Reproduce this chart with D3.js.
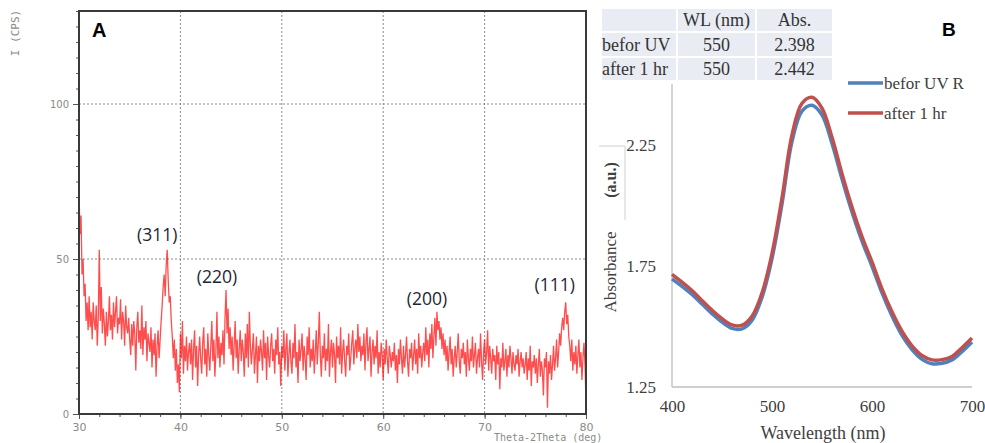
<!DOCTYPE html>
<html>
<head>
<meta charset="utf-8">
<script src="https://cdn.jsdelivr.net/npm/d3@7"></script>
<style>
  html, body { margin: 0; padding: 0; background: #fff; }
  svg { display: block; }
</style>
</head>
<body>
<svg id="chart" width="985" height="443"></svg>
<script>
// ---------- Panel A: XRD pattern (2θ from 30° to 80°, step 0.1°) ----------
const xrdStart = 30;
const xrdStep = 0.1;
const xrdCounts = [
  72, 58, 64, 45, 50, 38, 42, 30, 36, 27,
  38, 28, 33, 24, 36, 30, 27, 35, 22, 31,
  53, 30, 41, 26, 34, 29, 22, 33, 25, 30,
  38, 27, 32, 24, 36, 28, 33, 38, 26, 31,
  29, 37, 24, 33, 30, 22, 35, 28, 26, 31,
  24, 19, 29, 22, 30, 26, 14, 28, 33, 23,
  27, 21, 35, 19, 28, 24, 30, 17, 26, 23,
  20, 28, 15, 24, 19, 26, 12, 22, 27, 18,
  24, 30, 35, 41, 45, 38, 48, 53, 43, 36,
  38, 30, 25, 18, 24, 14, 21, 10, 16, 7,
  26, 18, 30, 13, 22, 17, 25, 14, 20, 23,
  16, 24, 11, 21, 27, 15, 22, 9, 19, 25,
  18, 13, 23, 28, 16, 21, 12, 26, 19, 14,
  22, 30, 17, 24, 12, 20, 33, 18, 25, 15,
  23, 19, 27, 16, 31, 40, 26, 34, 21, 28,
  19, 25, 14, 22, 30, 18, 24, 13, 21, 27,
  17, 24, 20, 12, 26, 18, 29, 15, 33, 22,
  16, 21, 26, 13, 19, 25, 10, 22, 17, 24,
  20, 14, 27, 18, 23, 11, 25, 19, 15, 22,
  26, 17, 21, 13, 24, 19, 28, 16, 20, 9,
  22, 18, 27, 14, 21, 26, 12, 19, 24, 17,
  13, 23, 18, 29, 15, 20, 10, 24, 17, 21,
  26, 14, 22, 18, 11, 25, 19, 28, 15, 21,
  17, 24, 13, 20, 27, 16, 23, 33, 19, 12,
  22, 18, 26, 14, 21, 17, 29, 12, 20, 24,
  15, 23, 19, 10, 25, 18, 22, 16, 28, 13,
  20, 24, 17, 12, 22, 19, 26, 14, 18, 23,
  27, 16, 21, 24, 18, 29, 20, 25, 17, 22,
  19, 26, 14, 23, 28, 17, 21, 25, 12, 20,
  24, 16, 22, 18, 27, 13, 20, 15, 23, 19,
  11, 21, 16, 24, 18, 13, 22, 19, 15, 20,
  17, 23, 14, 19, 10, 21, 16, 24, 18, 13,
  22, 15, 19, 25, 17, 12, 21, 18, 23, 14,
  19, 24, 16, 21, 13, 26, 18, 22, 15, 20,
  23, 17, 28, 19, 24, 15, 26, 21, 29, 18,
  25, 31, 22, 33, 27, 30, 24, 28, 21, 26,
  19, 24, 17, 22, 14, 20, 25, 16, 21, 12,
  18, 22, 15, 20, 26, 17, 13, 21, 18, 23,
  16, 20, 12, 24, 18, 14, 21, 17, 25, 15,
  19, 23, 13, 18, 21, 15, 26, 17, 11, 20,
  24, 16, 20, 27, 14, 22, 18, 13, 21, 17,
  19, 11, 22, 16, 20, 8, 18, 15, 23, 14,
  17, 21, 12, 19, 15, 22, 18, 13, 20, 16,
  14, 19, 16, 21, 12, 17, 20, 15, 18, 13,
  16, 20, 11, 18, 14, 22, 9, 17, 15, 19,
  13, 18, 10, 16, 21, 12, 17, 14, 6, 18,
  15, 20, 2, 17, 13, 19, 11, 16, 22, 14,
  18, 24, 15, 20, 26, 22, 28, 31, 27, 33,
  36, 29, 32, 25, 22, 17, 24, 14, 20, 16,
  22, 13, 19, 24, 15, 20, 11, 18, 23, 16,
  4
];
const xrdXTicks = [30, 40, 50, 60, 70, 80];
const xrdYTicks = [0, 50, 100];
const peakLabels = ["(311)", "(220)", "(200)", "(111)"];
const peakAngles = [38.7, 44.6, 65.3, 77.9];
const peakLabelCounts = [58, 44.5, 37.5, 42];

// ---------- Panel B: UV-Vis absorbance ----------
const wavelengths = [400, 410, 420, 430, 440, 450, 460, 470, 480, 490,
                     500, 510, 520, 530, 540, 550, 560, 570, 580, 590,
                     600, 610, 620, 630, 640, 650, 660, 670, 680, 690, 700];
const absBefore = [1.696, 1.665, 1.632, 1.592, 1.552, 1.518, 1.492, 1.490, 1.525, 1.620,
                   1.780, 2.005, 2.262, 2.388, 2.412, 2.372, 2.255, 2.108, 1.972, 1.852,
                   1.748, 1.638, 1.543, 1.463, 1.404, 1.364, 1.346, 1.348, 1.362, 1.396, 1.436];
const absAfter  = [1.715, 1.683, 1.648, 1.607, 1.567, 1.532, 1.506, 1.505, 1.542, 1.638,
                   1.800, 2.030, 2.290, 2.420, 2.445, 2.400, 2.280, 2.130, 1.992, 1.870,
                   1.766, 1.655, 1.560, 1.480, 1.420, 1.380, 1.362, 1.363, 1.376, 1.412, 1.452];
const seriesNames = ["befor UV R", "after 1 hr"];
const seriesColors = ["#4f81bd", "#c0504d"];
const uvXTicks = [400, 500, 600, 700];
const uvYTicks = [1.25, 1.75, 2.25];

// Summary table
const tableHeader = ["", "WL (nm)", "Abs."];
const tableRowNames = ["befor UV", "after 1 hr"];
const tableWL = ["550", "550"];
const tableAbs = ["2.398", "2.442"];

const svg = d3.select("#chart");

// ===================== Panel A =====================
const ax = d3.scaleLinear().domain([30, 80]).range([79, 586]);
const ay = d3.scaleLinear().domain([0, 130]).range([414, 11]);
const gA = svg.append("g");

// dotted grid
gA.selectAll("line.vgrid").data([40, 50, 60, 70]).join("line")
  .attr("x1", d => ax(d)).attr("x2", d => ax(d))
  .attr("y1", ay(130)).attr("y2", ay(0))
  .attr("stroke", "#8a8a8a").attr("stroke-width", 1).attr("stroke-dasharray", "2,2");
gA.selectAll("line.hgrid").data([50, 100]).join("line")
  .attr("x1", ax(30)).attr("x2", ax(80))
  .attr("y1", d => ay(d)).attr("y2", d => ay(d))
  .attr("stroke", "#8a8a8a").attr("stroke-width", 1).attr("stroke-dasharray", "2,2");

// diffraction trace
const xrdPoints = xrdCounts.map((c, i) => [xrdStart + i * xrdStep, c]);
gA.append("path")
  .datum(xrdPoints)
  .attr("fill", "none")
  .attr("stroke", "#ff0000")
  .attr("stroke-opacity", 0.7)
  .attr("stroke-width", 1.3)
  .attr("d", d3.line().x(d => ax(d[0])).y(d => ay(d[1])));

// axes with minor ticks
const xMinor = d3.range(30, 80.01, 2);
gA.append("g").attr("transform", `translate(0,${ay(0)})`)
  .call(d3.axisBottom(ax).tickValues(xMinor).tickSize(3).tickFormat(""))
  .call(g => g.select(".domain").remove())
  .call(g => g.selectAll("line").attr("stroke", "#555"));
gA.append("g").attr("transform", `translate(0,${ay(0)})`)
  .call(d3.axisBottom(ax).tickValues(xrdXTicks).tickSize(5).tickPadding(4).tickFormat(d3.format("d")))
  .call(g => g.select(".domain").remove())
  .call(g => g.selectAll("line").attr("stroke", "#555"))
  .call(g => g.selectAll("text").attr("fill", "#8a8a8a").attr("font-size", 11)
    .attr("font-family", "DejaVu Sans, sans-serif"));

const yMinor = d3.range(0, 130.01, 5);
gA.append("g").attr("transform", `translate(${ax(30)},0)`)
  .call(d3.axisLeft(ay).tickValues(yMinor).tickSize(3).tickFormat(""))
  .call(g => g.select(".domain").remove())
  .call(g => g.selectAll("line").attr("stroke", "#555"));
gA.append("g").attr("transform", `translate(${ax(30)},0)`)
  .call(d3.axisLeft(ay).tickValues(xrdYTicks).tickSize(6).tickPadding(4).tickFormat(d3.format("d")))
  .call(g => g.select(".domain").remove())
  .call(g => g.selectAll("line").attr("stroke", "#555"))
  .call(g => g.selectAll("text").attr("fill", "#8a8a8a").attr("font-size", 10)
    .attr("font-family", "DejaVu Sans, sans-serif"));

// frame
gA.append("rect")
  .attr("x", ax(30)).attr("y", ay(130))
  .attr("width", ax(80) - ax(30)).attr("height", ay(0) - ay(130))
  .attr("fill", "none").attr("stroke", "#3a3a3a").attr("stroke-width", 2);

// axis titles
gA.append("text")
  .attr("transform", "translate(19,33) rotate(-90)")
  .attr("text-anchor", "middle")
  .attr("font-family", "DejaVu Sans Mono, monospace")
  .attr("font-size", 11).attr("fill", "#8a8a8a")
  .text("I (CPS)");
gA.append("text")
  .attr("x", 494).attr("y", 441)
  .attr("font-family", "DejaVu Sans Mono, monospace")
  .attr("font-size", 10).attr("fill", "#8a8a8a")
  .text("Theta-2Theta (deg)");

// panel letter
gA.append("text")
  .attr("x", 92).attr("y", 37)
  .attr("font-family", "Liberation Sans, Arial, sans-serif")
  .attr("font-weight", "bold").attr("font-size", 20).attr("fill", "#000")
  .text("A");

// reflection labels
gA.selectAll("text.peak").data(peakLabels).join("text")
  .attr("x", (d, i) => ax(peakAngles[i]) - 10)
  .attr("y", (d, i) => ay(peakLabelCounts[i]))
  .attr("text-anchor", "middle")
  .attr("dominant-baseline", "central")
  .attr("font-family", "Open Sans, sans-serif")
  .attr("font-size", 17.5).attr("fill", "#1c2536")
  .text(d => d);

// ===================== Panel B =====================
const bx = d3.scaleLinear().domain([400, 700]).range([672, 972]);
const by = d3.scaleLinear().domain([1.25, 2.5]).range([387, 84]);
const gB = svg.append("g");

// axis lines
gB.append("line").attr("x1", bx(400)).attr("x2", bx(400)).attr("y1", by(2.5)).attr("y2", by(1.25))
  .attr("stroke", "#bfbfbf").attr("stroke-width", 1.3);
gB.append("line").attr("x1", bx(400)).attr("x2", bx(700)).attr("y1", by(1.25)).attr("y2", by(1.25))
  .attr("stroke", "#bfbfbf").attr("stroke-width", 1.3);

// tick labels
gB.append("g").attr("transform", `translate(0,${by(1.25)})`)
  .call(d3.axisBottom(bx).tickValues(uvXTicks).tickSize(0).tickPadding(13).tickFormat(d3.format("d")))
  .call(g => g.select(".domain").remove())
  .call(g => g.selectAll("text").attr("fill", "#404040").attr("font-size", 17)
    .attr("font-family", "Liberation Serif, Times New Roman, serif"));
gB.append("g").attr("transform", `translate(${bx(400)},0)`)
  .call(d3.axisLeft(by).tickValues(uvYTicks).tickSize(0).tickPadding(16).tickFormat(d3.format(".2f")))
  .call(g => g.select(".domain").remove())
  .call(g => g.selectAll("text").attr("fill", "#404040").attr("font-size", 17)
    .attr("font-family", "Liberation Serif, Times New Roman, serif"));

// spectra
const uvLine = d3.line().curve(d3.curveCatmullRom.alpha(0.5))
  .x((d, i) => bx(wavelengths[i])).y(d => by(d));
[absBefore, absAfter].forEach((s, k) => {
  gB.append("path").datum(s)
    .attr("fill", "none")
    .attr("stroke", seriesColors[k])
    .attr("stroke-width", 3.5)
    .attr("stroke-linejoin", "round")
    .attr("d", uvLine);
});

// legend
const legendY = [83, 113];
seriesNames.forEach((name, k) => {
  gB.append("line")
    .attr("x1", 848).attr("x2", 883).attr("y1", legendY[k]).attr("y2", legendY[k])
    .attr("stroke", seriesColors[k]).attr("stroke-width", 3.5);
  gB.append("text")
    .attr("x", 884).attr("y", legendY[k] + 6)
    .attr("font-family", "Liberation Serif, Times New Roman, serif")
    .attr("font-size", 17).attr("fill", "#404040")
    .text(name);
});

// axis titles
gB.append("text")
  .attr("x", 823).attr("y", 439)
  .attr("text-anchor", "middle")
  .attr("font-family", "Liberation Serif, Times New Roman, serif")
  .attr("font-size", 18).attr("fill", "#404040")
  .text("Wavelength (nm)");

// text box border around the unit label
gB.append("path")
  .attr("d", "M599,146 H625 V220")
  .attr("fill", "none").attr("stroke", "#d0d0d0").attr("stroke-width", 1);

gB.append("text")
  .attr("transform", "translate(616,272) rotate(-90)")
  .attr("text-anchor", "middle")
  .attr("font-family", "Liberation Serif, Times New Roman, serif")
  .attr("font-size", 17).attr("fill", "#404040")
  .text("Absorbance");
gB.append("text")
  .attr("transform", "translate(616,180) rotate(-90)")
  .attr("text-anchor", "middle")
  .attr("font-family", "Liberation Serif, Times New Roman, serif")
  .attr("font-weight", "bold")
  .attr("font-size", 16).attr("fill", "#404040")
  .text("(a.u.)");

// panel letter
gB.append("text")
  .attr("x", 942).attr("y", 36)
  .attr("font-family", "Liberation Sans, Arial, sans-serif")
  .attr("font-weight", "bold").attr("font-size", 19).attr("fill", "#000")
  .text("B");

// summary table
const colX = [601, 677, 756, 833];
const rowY = [8, 32, 57, 81];
const tableRows = [tableHeader].concat(tableRowNames.map((n, i) => [n, tableWL[i], tableAbs[i]]));
const gT = gB.append("g");
tableRows.forEach((row, r) => {
  row.forEach((cell, c) => {
    gT.append("rect")
      .attr("x", colX[c]).attr("y", rowY[r])
      .attr("width", colX[c + 1] - colX[c]).attr("height", rowY[r + 1] - rowY[r])
      .attr("fill", "#e9ecf3").attr("stroke", "#ffffff").attr("stroke-width", 2);
    gT.append("text")
      .attr("x", c === 0 ? colX[c] + 1 : (colX[c] + colX[c + 1]) / 2)
      .attr("y", (rowY[r] + rowY[r + 1]) / 2 + 6)
      .attr("text-anchor", c === 0 ? "start" : "middle")
      .attr("font-family", "Liberation Serif, Times New Roman, serif")
      .attr("font-size", 18).attr("fill", "#333")
      .text(cell);
  });
});
</script>
</body>
</html>
